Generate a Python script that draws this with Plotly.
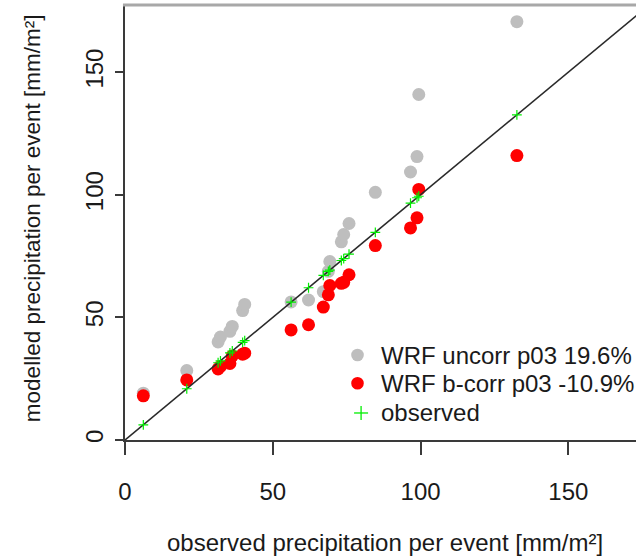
import plotly.graph_objects as go

# Event totals (mm/m²): observed vs. WRF simulated, uncorrected and bias-corrected
observed = [6.2, 20.9, 31.5, 32.3, 35.5, 36.3, 39.8, 40.5, 56.2, 62.1, 67.1, 68.8,
            69.3, 73.2, 74.0, 75.8, 84.7, 96.6, 98.8, 99.4, 132.6]
wrf_uncorr = [19.1, 28.3, 40.0, 42.0, 44.3, 46.3, 52.8, 55.3, 56.3, 57.1, 60.5, 68.8,
              72.8, 80.8, 83.8, 88.3, 101.0, 109.3, 115.6, 140.9, 170.6]
wrf_bcorr = [18.0, 24.5, 29.0, 30.0, 31.2, 34.3, 35.0, 35.4, 44.9, 47.0, 54.2, 59.2,
             63.0, 63.9, 64.3, 67.4, 79.3, 86.5, 90.6, 102.2, 116.0]

legend_labels = ["WRF uncorr p03 19.6%", "WRF b-corr p03 -10.9%", "observed"]
x_ticks = [0, 50, 100, 150]
y_ticks = [0, 50, 100, 150]
x_limits = [0, 172.9]
y_limits = [0, 177.4]

FONT = "Liberation Sans, Arial, sans-serif"
TXT = "#1a1a1a"
GRAY, RED, GREEN = "#bebebe", "#ff0000", "#00ee00"
FS = 24

fig = go.Figure()

fig.add_trace(go.Scatter(
    x=observed, y=wrf_uncorr, mode="markers", name=legend_labels[0],
    marker=dict(color=GRAY, size=13, line=dict(width=0)),
))
fig.add_trace(go.Scatter(
    x=observed, y=wrf_bcorr, mode="markers", name=legend_labels[1],
    marker=dict(color=RED, size=13, line=dict(width=0)),
))

# 1:1 reference line spanning the axis range
diag = [0, max(x_limits[1], y_limits[1])]
fig.add_trace(go.Scatter(
    x=diag, y=diag, mode="lines", showlegend=False, hoverinfo="skip",
    line=dict(color="#2a2a2a", width=1.6),
))

# observed values sit on the 1:1 line
fig.add_trace(go.Scatter(
    x=observed, y=observed, mode="markers", name=legend_labels[2],
    marker=dict(symbol="cross-thin", color=GREEN, size=7,
                line=dict(color=GREEN, width=1.2)),
))

# key in the lower-right corner: pixel-sized symbols anchored in paper space
key_x, key_text_x = 0.455, 0.497
key_rows = [0.1954, 0.1303, 0.0621]
shapes = [dict(type="line", xref="paper", yref="paper", x0=-0.004, x1=1, y0=1, y1=1,
               line=dict(color="#a8a8a8", width=3))]
for row, col in zip(key_rows[:2], [GRAY, RED]):
    shapes.append(dict(type="circle", xref="paper", yref="paper",
                       xsizemode="pixel", ysizemode="pixel",
                       xanchor=key_x, yanchor=row, x0=-6.3, x1=6.3, y0=-6.3, y1=6.3,
                       fillcolor=col, line=dict(width=0)))
for (a0, a1, b0, b1) in [(-7, 7, 0, 0), (0, 0, -7, 7)]:
    shapes.append(dict(type="line", xref="paper", yref="paper",
                       xsizemode="pixel", ysizemode="pixel",
                       xanchor=key_x + 0.007, yanchor=key_rows[2],
                       x0=a0, x1=a1, y0=b0, y1=b1,
                       line=dict(color=GREEN, width=1.3)))

annotations = [
    dict(text="observed precipitation per event [mm/m²]", xref="paper", yref="paper",
         x=0.509, y=-0.235, xanchor="center", yanchor="middle", showarrow=False,
         font=dict(family=FONT, size=FS, color=TXT)),
    dict(text="modelled precipitation per event [mm/m²]", xref="paper", yref="paper",
         x=-0.182, y=0.51, xanchor="center", yanchor="middle", showarrow=False,
         textangle=-90, font=dict(family=FONT, size=22.5, color=TXT)),
]
for row, label in zip(key_rows, legend_labels):
    annotations.append(dict(text=label, xref="paper", yref="paper",
                            x=key_text_x, y=row, xanchor="left", yanchor="middle",
                            showarrow=False, font=dict(family=FONT, size=FS, color=TXT)))

fig.update_layout(
    width=636, height=557,
    margin=dict(l=125, r=0, t=5, b=117),
    paper_bgcolor="white", plot_bgcolor="white",
    font=dict(family=FONT, size=FS, color=TXT),
    showlegend=False,
    xaxis=dict(
        range=x_limits, tickvals=x_ticks, ticktext=[str(v) for v in x_ticks],
        showgrid=False, zeroline=False,
        showline=True, linecolor="#3a3a3a", linewidth=2,
        ticks="outside", ticklen=13, tickwidth=1.5, tickcolor="#3a3a3a",
        ticklabelstandoff=16,
        tickfont=dict(family=FONT, size=FS, color=TXT),
    ),
    yaxis=dict(
        range=y_limits, tickvals=y_ticks, ticktext=[str(v) for v in y_ticks],
        showgrid=False, zeroline=False,
        showline=True, linecolor="#3a3a3a", linewidth=2,
        ticks="outside", ticklen=8, tickwidth=1.5, tickcolor="#3a3a3a",
        tickangle=-90, ticklabelstandoff=2,
        tickfont=dict(family=FONT, size=FS, color=TXT),
    ),
    shapes=shapes,
    annotations=annotations,
)

fig.write_html("out.html")
